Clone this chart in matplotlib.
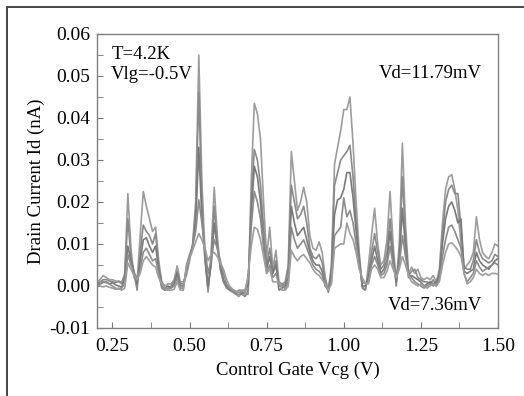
import numpy as np
import matplotlib
matplotlib.use("Agg")
import matplotlib.pyplot as plt
from matplotlib.patches import Rectangle

plt.rcParams['font.family'] = ['Liberation Serif', 'DejaVu Serif']

vcg = np.round(np.arange(0.20, 1.5001, 0.01), 2)

# Id (nA) for five drain voltages, from Vd=11.79mV (top) to Vd=7.36mV (bottom)
id_1 = [0.0010, 0.0015, 0.0025, 0.0020, 0.0015, 0.0015, 0.0012, 0.0010, 0.0005, 0.0030,
        0.0220, 0.0090, 0.0020, 0.0010, 0.0120, 0.0225, 0.0190, 0.0160, 0.0130, 0.0140,
        0.0060, 0.0010, 0.0000, 0.0005, 0.0005, 0.0015, 0.0048, 0.0010, 0.0010, 0.0025,
        0.0060, 0.0100, 0.0200, 0.0550, 0.0250, 0.0080, -0.0015, 0.0080, 0.0235, 0.0120,
        0.0040, 0.0010, 0.0000, -0.0010, -0.0015, -0.0020, -0.0025, -0.0015, -0.0020, -0.0020,
        0.0250, 0.0435, 0.0410, 0.0350, 0.0200, 0.0070, 0.0140, 0.0040, 0.0085, 0.0010,
        0.0005, 0.0010, 0.0050, 0.0320, 0.0250, 0.0180, 0.0200, 0.0235, 0.0200, 0.0120,
        0.0090, 0.0085, 0.0105, 0.0080, 0.0020, -0.0010, 0.0050, 0.0290, 0.0330, 0.0370,
        0.0420, 0.0420, 0.0450, 0.0340, 0.0200, 0.0080, 0.0000, -0.0010, 0.0050, 0.0120,
        0.0185, 0.0100, 0.0050, 0.0060, 0.0110, 0.0225, 0.0100, 0.0010, 0.0100, 0.0340,
        0.0150, 0.0030, 0.0045, 0.0030, 0.0040, 0.0020, 0.0015, 0.0020, 0.0015, 0.0025,
        0.0010, 0.0040, 0.0150, 0.0230, 0.0260, 0.0265, 0.0230, 0.0180, 0.0100, 0.0040,
        0.0050, 0.0060, 0.0080, 0.0165, 0.0110, 0.0080, 0.0070, 0.0065, 0.0080, 0.0100,
        0.0095]
id_2 = [0.0005, 0.0010, 0.0015, 0.0015, 0.0012, 0.0010, 0.0008, 0.0012, 0.0008, 0.0025,
        0.0160, 0.0070, 0.0030, -0.0010, 0.0080, 0.0145, 0.0130, 0.0120, 0.0100, 0.0125,
        0.0050, 0.0005, -0.0010, -0.0005, 0.0000, 0.0010, 0.0035, 0.0005, 0.0005, 0.0030,
        0.0065, 0.0095, 0.0180, 0.0460, 0.0200, 0.0060, -0.0010, 0.0060, 0.0190, 0.0100,
        0.0040, 0.0010, -0.0005, -0.0010, -0.0012, -0.0018, -0.0020, -0.0020, -0.0025, -0.0010,
        0.0200, 0.0325, 0.0300, 0.0240, 0.0140, 0.0050, 0.0090, 0.0030, 0.0060, 0.0000,
        0.0000, 0.0005, 0.0040, 0.0240, 0.0200, 0.0160, 0.0170, 0.0190, 0.0150, 0.0090,
        0.0070, 0.0065, 0.0075, 0.0055, 0.0010, -0.0015, 0.0040, 0.0240, 0.0270, 0.0300,
        0.0310, 0.0320, 0.0335, 0.0260, 0.0150, 0.0070, -0.0005, -0.0010, 0.0030, 0.0080,
        0.0125, 0.0080, 0.0040, 0.0050, 0.0080, 0.0160, 0.0080, 0.0000, 0.0080, 0.0260,
        0.0120, 0.0025, 0.0035, 0.0040, 0.0020, 0.0015, 0.0010, 0.0010, 0.0005, 0.0015,
        0.0000, 0.0030, 0.0120, 0.0200, 0.0230, 0.0240, 0.0220, 0.0220, 0.0140, 0.0045,
        0.0040, 0.0040, 0.0060, 0.0110, 0.0080, 0.0065, 0.0060, 0.0055, 0.0060, 0.0075,
        0.0070]
id_3 = [0.0000, 0.0005, 0.0010, 0.0008, 0.0005, 0.0008, 0.0003, 0.0000, -0.0003, 0.0020,
        0.0095, 0.0060, 0.0035, 0.0005, 0.0060, 0.0110, 0.0115, 0.0095, 0.0080, 0.0095,
        0.0040, 0.0000, -0.0005, 0.0000, -0.0005, 0.0005, 0.0030, 0.0000, 0.0000, 0.0040,
        0.0070, 0.0095, 0.0150, 0.0330, 0.0160, 0.0070, 0.0000, 0.0050, 0.0150, 0.0090,
        0.0050, 0.0015, 0.0000, -0.0008, -0.0010, -0.0015, -0.0015, -0.0018, -0.0015, 0.0005,
        0.0170, 0.0285, 0.0260, 0.0200, 0.0100, 0.0040, 0.0070, 0.0030, 0.0050, -0.0010,
        -0.0005, 0.0000, 0.0020, 0.0190, 0.0150, 0.0120, 0.0130, 0.0140, 0.0110, 0.0080,
        0.0060, 0.0050, 0.0050, 0.0035, 0.0000, -0.0010, 0.0030, 0.0170, 0.0205, 0.0210,
        0.0230, 0.0270, 0.0270, 0.0210, 0.0130, 0.0060, 0.0000, 0.0000, 0.0020, 0.0060,
        0.0095, 0.0060, 0.0030, 0.0040, 0.0060, 0.0130, 0.0060, 0.0010, 0.0060, 0.0185,
        0.0090, 0.0020, 0.0025, 0.0020, 0.0015, 0.0010, 0.0000, 0.0005, 0.0010, 0.0005,
        0.0010, 0.0025, 0.0100, 0.0160, 0.0190, 0.0200, 0.0180, 0.0150, 0.0160, 0.0035,
        0.0030, 0.0035, 0.0040, 0.0080, 0.0060, 0.0050, 0.0045, 0.0040, 0.0050, 0.0060,
        0.0065]
id_4 = [0.0008, 0.0005, 0.0008, 0.0010, 0.0005, 0.0000, -0.0005, -0.0008, -0.0005, 0.0005,
        0.0075, 0.0050, 0.0030, 0.0020, 0.0040, 0.0080, 0.0090, 0.0075, 0.0060, 0.0065,
        0.0030, -0.0005, -0.0010, -0.0008, -0.0005, 0.0000, 0.0020, -0.0005, -0.0005, 0.0050,
        0.0075, 0.0095, 0.0130, 0.0205, 0.0150, 0.0090, 0.0030, 0.0060, 0.0110, 0.0090,
        0.0060, 0.0030, 0.0005, -0.0005, -0.0010, -0.0015, -0.0010, -0.0010, -0.0010, 0.0020,
        0.0140, 0.0225, 0.0200, 0.0160, 0.0090, 0.0030, 0.0050, 0.0020, 0.0030, 0.0005,
        0.0005, -0.0008, 0.0010, 0.0140, 0.0110, 0.0090, 0.0100, 0.0110, 0.0090, 0.0070,
        0.0050, 0.0040, 0.0035, 0.0025, 0.0000, -0.0005, 0.0010, 0.0120, 0.0130, 0.0140,
        0.0210, 0.0165, 0.0180, 0.0150, 0.0100, 0.0050, 0.0010, 0.0005, 0.0010, 0.0050,
        0.0070, 0.0050, 0.0025, 0.0030, 0.0050, 0.0095, 0.0050, 0.0020, 0.0050, 0.0120,
        0.0070, 0.0030, 0.0020, 0.0010, 0.0005, 0.0000, -0.0005, 0.0000, 0.0005, 0.0000,
        0.0005, 0.0015, 0.0070, 0.0110, 0.0140, 0.0145, 0.0130, 0.0110, 0.0090, 0.0030,
        0.0010, 0.0020, 0.0030, 0.0060, 0.0045, 0.0035, 0.0040, 0.0045, 0.0050, 0.0055,
        0.0050]
id_5 = [0.0003, 0.0000, -0.0002, 0.0000, -0.0003, -0.0005, -0.0008, -0.0005, -0.0010, -0.0005,
        0.0055, 0.0040, 0.0025, 0.0015, 0.0030, 0.0060, 0.0070, 0.0060, 0.0050, 0.0045,
        0.0020, 0.0005, -0.0005, -0.0010, -0.0010, -0.0008, 0.0010, -0.0010, -0.0010, 0.0045,
        0.0065, 0.0085, 0.0105, 0.0125, 0.0110, 0.0090, 0.0060, 0.0075, 0.0080, 0.0070,
        0.0055, 0.0040, 0.0015, 0.0000, -0.0008, -0.0012, -0.0015, -0.0012, -0.0015, 0.0025,
        0.0095, 0.0140, 0.0135, 0.0110, 0.0070, 0.0030, 0.0040, 0.0010, 0.0010, 0.0010,
        -0.0010, -0.0010, 0.0000, 0.0085, 0.0070, 0.0060, 0.0070, 0.0075, 0.0065, 0.0055,
        0.0040, 0.0030, 0.0025, 0.0015, 0.0005, -0.0010, 0.0005, 0.0090, 0.0095, 0.0100,
        0.0100, 0.0150, 0.0125, 0.0110, 0.0080, 0.0040, 0.0020, 0.0005, 0.0005, 0.0040,
        0.0050, 0.0040, 0.0020, 0.0020, 0.0035, 0.0060, 0.0040, 0.0020, 0.0040, 0.0070,
        0.0050, 0.0025, 0.0010, 0.0005, 0.0000, 0.0005, 0.0000, -0.0005, 0.0000, 0.0005,
        0.0000, 0.0010, 0.0050, 0.0080, 0.0100, 0.0103, 0.0095, 0.0085, 0.0070, 0.0030,
        0.0005, 0.0010, 0.0020, 0.0040, 0.0030, 0.0025, 0.0030, 0.0025, 0.0030, 0.0030,
        0.0028]

series = [id_1, id_2, id_3, id_4, id_5]
colors = ['#9c9c9c', '#8a8a8a', '#7a7a7a', '#8c8c8c', '#9e9e9e']

x_ticks = [0.25, 0.50, 0.75, 1.00, 1.25, 1.50]
y_ticks = [-0.01, 0.00, 0.01, 0.02, 0.03, 0.04, 0.05, 0.06]

fig = plt.figure(figsize=(5.24, 3.96), dpi=100)
fig.patches.append(Rectangle((7/524, -0.1), 1.2, (396-7)/396 + 0.1, transform=fig.transFigure,
                             fill=False, edgecolor='#444444', linewidth=1.4))
ax = fig.add_axes([97/524, (396-328)/396, 401/524, 294/396])

for s, c in zip(series, colors):
    ax.plot(vcg, s, color=c, linewidth=1.2)

ax.set_xlim(0.2, 1.5)
ax.set_ylim(-0.01, 0.06)
ax.set_xticks(x_ticks)
ax.set_xticklabels([f"{v:.2f}" for v in x_ticks])
ax.set_yticks(y_ticks)
ax.set_yticklabels([f"{v:.2f}" for v in y_ticks])
ax.set_xticks(np.arange(0.375, 1.5, 0.25), minor=True)
ax.set_yticks(np.arange(-0.005, 0.06, 0.01), minor=True)
ax.tick_params(which='both', direction='in', length=4, color='#777777', labelsize=14,
               top=False, right=False)
ax.tick_params(axis='x', pad=7)
ax.tick_params(axis='y', pad=5)
for sp in ax.spines.values():
    sp.set_color('#808080')
    sp.set_linewidth(1.0)

ax.set_xlabel('Control Gate Vcg (V)', fontsize=13.5, labelpad=5)
ax.set_ylabel('Drain Current Id (nA)', fontsize=13.5, labelpad=3)

ax.text(0.037, 0.929, 'T=4.2K', transform=ax.transAxes, fontsize=13.5, va='center', ha='left')
ax.text(0.035, 0.861, 'Vlg=-0.5V', transform=ax.transAxes, fontsize=13.5, va='center', ha='left')
ax.text(0.96, 0.864, 'Vd=11.79mV', transform=ax.transAxes, fontsize=13.5, va='center', ha='right')
ax.text(0.96, 0.075, 'Vd=7.36mV', transform=ax.transAxes, fontsize=13.5, va='center', ha='right')

fig.savefig('out.png', dpi=100)
